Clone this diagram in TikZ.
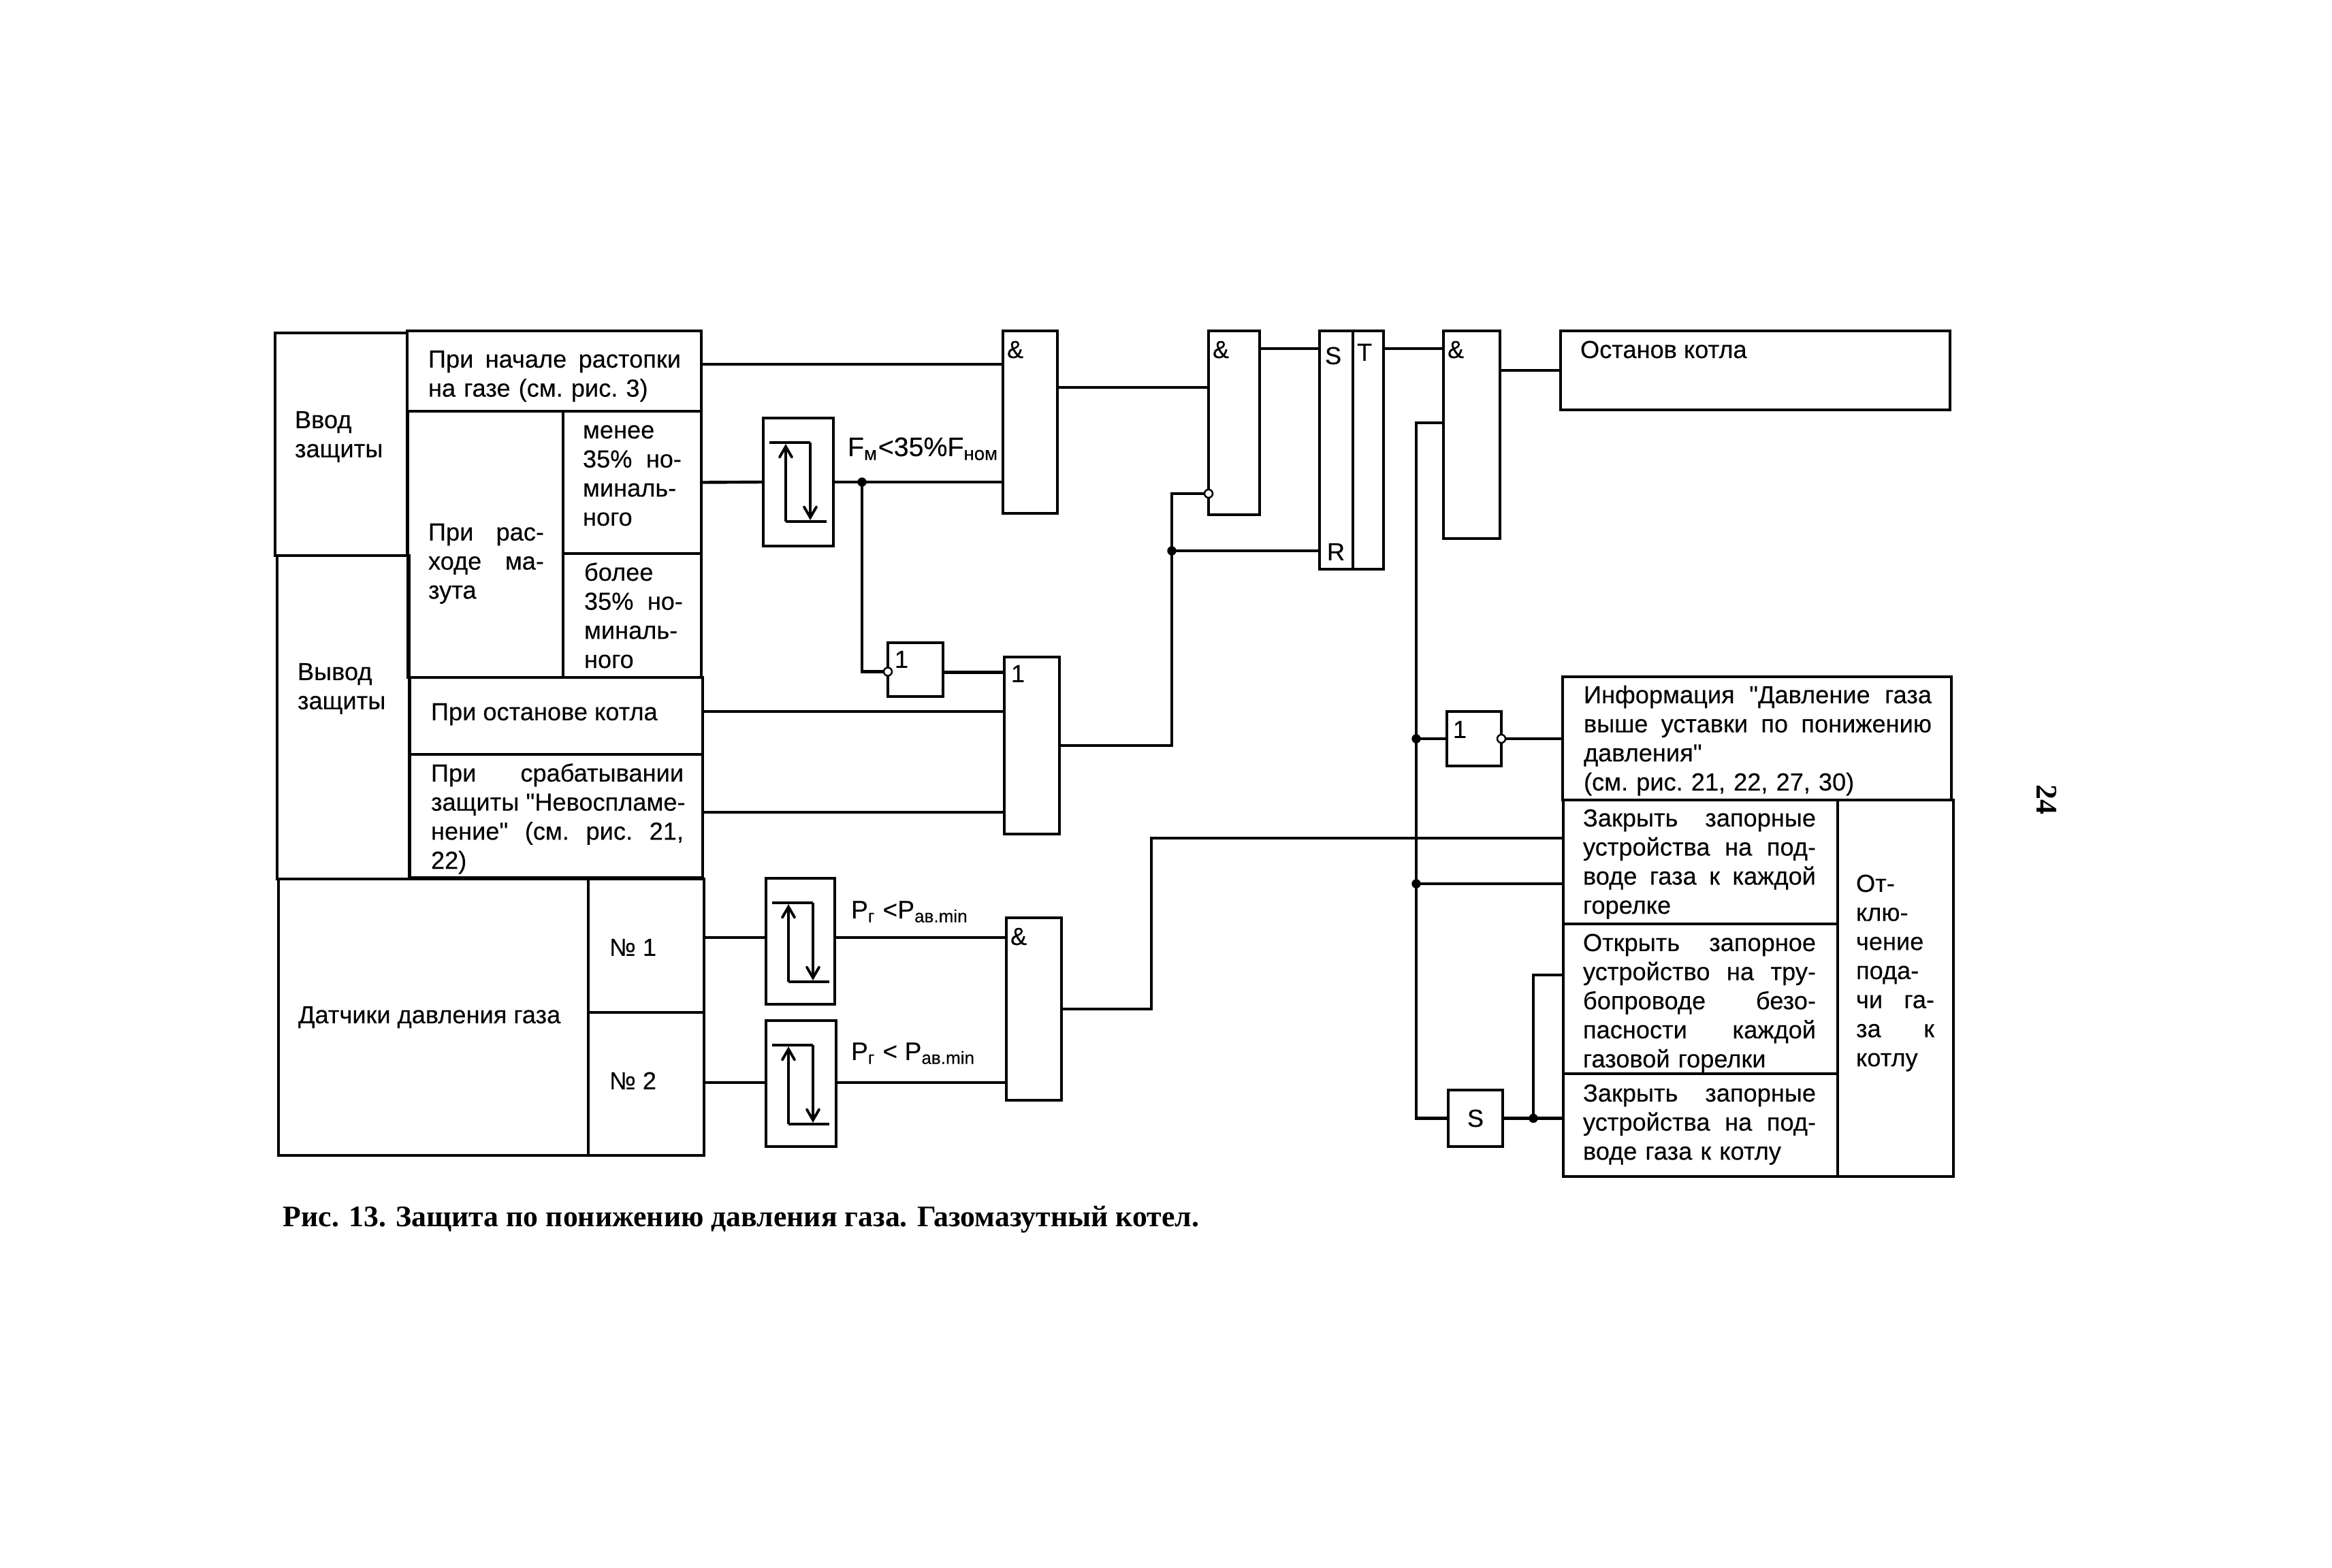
\documentclass[tikz,border=0pt]{standalone}
\usepackage{fontspec}
\usepackage{amsmath}
\setmainfont[FakeBold=0.2]{Liberation Sans}
\newfontfamily\capfont{Liberation Serif}
\newfontfamily\quotefont[FakeBold=0.2]{Liberation Sans}
\usetikzlibrary{arrows,positioning,calc}
\newcommand{\fl}[1]{\makebox[\hsize][s]{\spaceskip=.28em plus 1fil\relax #1}}
\newcommand{\qt}{{\quotefont\symbol{34}}}

\begin{document}
\begin{tikzpicture}[
    box/.style={rectangle, draw, line width=1.25pt, inner sep=0pt, outer sep=0pt},
    cell/.style 2 args={box, minimum width=#1cm, minimum height=#2cm},
    txt/.style={inner sep=0pt, outer sep=0pt, align=left, font=\fontsize{10.3}{12.15}\selectfont, execute at begin node={\frenchspacing\strut}},
    wire/.style={line width=1.25pt},
    dot/.style={circle, fill=black, draw, inner sep=0pt, minimum size=0.12cm},
    bubble/.style={circle, fill=white, draw, line width=0.7pt, inner sep=0pt, minimum size=0.12cm},
    arrow/.style={-angle 60, line width=1.1pt}
]
    \useasboundingbox (0,0) rectangle (34.25,-23.03);

    % left table
    \node[cell={1.94}{3.27}, anchor=north west] (vvod) at (4.04,-4.89) {};
    \node[cell={1.94}{4.75}, below right=0cm and 0.03cm of vvod.south west] (vyvod) {};
    \node[cell={4.32}{1.18}, below right=-0.03cm and 0cm of vvod.north east] (nachalo) {};
    \node[cell={2.28}{3.91}, below right=0cm and 0.01cm of nachalo.south west] (rashod) {};
    \node[cell={2.03}{2.09}, below right=0cm and 0cm of rashod.north east] (menee) {};
    \node[cell={2.03}{1.82}, below right=0cm and 0cm of menee.south west] (bolee) {};
    \node[cell={4.30}{1.13}, below right=0cm and 0.03cm of rashod.south west] (ostanov) {};
    \node[cell={4.30}{1.81}, below right=0cm and 0cm of ostanov.south west] (srab) {};
    \node[cell={4.55}{4.06}, below right=0cm and 0.02cm of vyvod.south west] (datchiki) {};
    \node[cell={1.70}{1.96}, below right=0cm and 0cm of datchiki.north east] (no1) {};
    \node[cell={1.70}{2.10}, below right=0cm and 0cm of no1.south west] (no2) {};

    % relays
    \node[cell={1.03}{1.88}, below right=0.10cm and 0.91cm of menee.north east] (relay) {};
    \node[cell={1.01}{1.85}, below right=-0.01cm and 0.91cm of no1.north east] (rone) {};
    \node[cell={1.03}{1.85}, below right=0.12cm and 0.91cm of no2.north east] (rtwo) {};

    % gates
    \node[cell={0.80}{2.68}, below right=0cm and 4.43cm of nachalo.north east] (andone) {};
    \node[cell={0.81}{0.79}, below right=3.30cm and 0.80cm of relay.north east] (nota) {};
    \node[cell={0.81}{2.60}, below right=2.11cm and 0.02cm of andone.south west] (orgate) {};
    \node[cell={0.75}{2.70}, below right=0cm and 2.22cm of andone.north east] (andtwo) {};
    \node[cell={0.49}{3.50}, below right=0cm and 0.88cm of andtwo.north east] (trigs) {};
    \node[cell={0.45}{3.50}, below right=0cm and 0cm of trigs.north east] (trigt) {};
    \node[cell={0.83}{3.05}, below right=0cm and 0.88cm of trigt.north east] (andthree) {};
    \node[cell={0.81}{2.68}, below right=0.58cm and 2.52cm of rone.north east] (andfour) {};
    \node[cell={0.80}{0.80}, below right=2.54cm and 0.05cm of andthree.south west] (notb) {};
    \node[cell={0.80}{0.83}, below right=4.76cm and 0.02cm of notb.south west, font=\fontsize{10.3}{12.15}\selectfont] (sgate) {S};

    % right table
    \node[cell={5.72}{1.16}, below right=0cm and 0.89cm of andthree.north east] (stop) {};
    \node[cell={5.71}{1.81}, below right=3.92cm and 0.03cm of stop.south west] (info) {};
    \node[cell={4.03}{1.82}, below right=0cm and 0.01cm of info.south west] (zone) {};
    \node[cell={4.03}{2.20}, below right=0cm and 0cm of zone.south west] (zopen) {};
    \node[cell={4.03}{1.51}, below right=0cm and 0cm of zopen.south west] (zgas) {};
    \node[cell={1.70}{5.53}, below right=0cm and 0cm of zone.north east] (otkl) {};

    % texts
    \node[txt, below right=1.15cm and 0.29cm of vvod.north west] (tvvod) {Ввод\\защиты};
    \node[txt, below right=1.58cm and 0.30cm of vyvod.north west] (tvyvod) {Вывод\\защиты};
    \node[txt, text width=3.71cm, below right=0.24cm and 0.31cm of nachalo.north west] (tnachalo) {\fl{При начале растопки}\\на газе (см. рис. 3)};
    \node[txt, text width=1.70cm, below right=1.60cm and 0.30cm of rashod.north west] (trashod) {\fl{При рас-}\\\fl{ходе ма-}\\зута};
    \node[txt, text width=1.45cm, below right=0.10cm and 0.29cm of menee.north west] (tmenee) {менее\\\fl{35\% но-}\\миналь-\\ного};
    \node[txt, text width=1.45cm, below right=0.10cm and 0.31cm of bolee.north west] (tbolee) {более\\\fl{35\% но-}\\миналь-\\ного};
    \node[txt, below right=0.33cm and 0.31cm of ostanov.north west] (tostanov) {При останове котла};
    \node[txt, text width=3.71cm, below right=0.10cm and 0.31cm of srab.north west] (tsrab) {\fl{При срабатывании}\\\fl{защиты \qt Невоспламе-}\\\fl{нение\qt{} (см. рис. 21,}\\22)};
    \node[txt, below right=1.82cm and 0.29cm of datchiki.north west] (tdatchiki) {Датчики давления газа};
    \node[txt, below right=0.83cm and 0.31cm of no1.north west] (tno1) {№ 1};
    \node[txt, below right=0.83cm and 0.31cm of no2.north west] (tno2) {№ 2};
    \node[txt, below right=0.10cm and 0.29cm of stop.north west] (tstop) {Останов котла};
    \node[txt, text width=5.11cm, below right=0.09cm and 0.31cm of info.north west] (tinfo) {\fl{Информация \qt Давление газа}\\\fl{выше уставки по понижению}\\давления\qt\\(см. рис. 21, 22, 27, 30)};
    \node[txt, text width=3.42cm, below right=0.09cm and 0.29cm of zone.north west] (tzone) {\fl{Закрыть запорные}\\\fl{устройства на под-}\\\fl{воде газа к каждой}\\горелке};
    \node[txt, text width=3.42cm, below right=0.10cm and 0.29cm of zopen.north west] (tzopen) {\fl{Открыть запорное}\\\fl{устройство на тру-}\\\fl{бопроводе безо-}\\\fl{пасности каждой}\\газовой горелки};
    \node[txt, text width=3.42cm, below right=0.11cm and 0.29cm of zgas.north west] (tzgas) {\fl{Закрыть запорные}\\\fl{устройства на под-}\\воде газа к котлу};
    \node[txt, text width=1.15cm, below right=1.05cm and 0.27cm of otkl.north west] (totkl) {От-\\клю-\\чение\\пода-\\\fl{чи га-}\\\fl{за к}\\котлу};
    \node[txt, font=\fontsize{11.2}{12.15}\selectfont, below right=0.26cm and 0.21cm of relay.north east] (tfm) {F\textsubscript{м}<35\%F\textsubscript{ном}};
    \node[txt, font=\fontsize{10.6}{12.15}\selectfont, below right=0.29cm and 0.24cm of rone.north east] (tpone) {P\textsubscript{г} <P\textsubscript{ав.min}};
    \node[txt, font=\fontsize{10.6}{12.15}\selectfont, below right=0.28cm and 0.22cm of rtwo.north east] (tptwo) {P\textsubscript{г} < P\textsubscript{ав.min}};
    \foreach \g in {andone,andtwo,andthree,andfour}
        \node[txt, below right=0.10cm and 0.06cm of \g.north west] (l\g) {\&};
    \node[txt, below right=0.07cm and 0.10cm of orgate.north west] (lor) {1};
    \node[txt, below right=0.07cm and 0.10cm of nota.north west] (lnota) {1};
    \node[txt, below right=0.09cm and 0.09cm of notb.north west] (lnotb) {1};
    \node[txt, below right=0.19cm and 0.08cm of trigs.north west] (ls) {S};
    \node[txt, below right=0.14cm and 0.06cm of trigt.north west] (lt) {T};
    \node[txt, below right=3.07cm and 0.11cm of trigs.north west] (lr) {R};

    % relay symbols
    \foreach \r in {relay,rone,rtwo} {
        \draw[wire] ($(\r.north west)+(0.09,-0.36)$) -- ($(\r.north west)+(0.69,-0.36)$);
        \draw[wire] ($(\r.north west)+(0.33,-1.52)$) -- ($(\r.north west)+(0.93,-1.52)$);
        \draw[arrow] ($(\r.north west)+(0.33,-1.52)$) -- ($(\r.north west)+(0.33,-0.38)$);
        \draw[arrow] ($(\r.north west)+(0.69,-0.36)$) -- ($(\r.north west)+(0.69,-1.50)$);
    }

    % inputs
    \coordinate (ain) at ($(andone.north west)+(0,-0.49)$);
    \coordinate (nain) at ($(nota.west)+(0,-0.03)$);
    \coordinate (naout) at ($(nota.east)+(0,-0.04)$);
    \coordinate (oin) at ($(orgate.north west)+(0,-0.80)$);
    \coordinate (oinb) at ($(orgate.north west)+(0,-2.28)$);
    \coordinate (atwoin) at ($(andtwo.north west)+(0,-0.83)$);
    \coordinate (sin) at ($(trigs.north west)+(0,-0.26)$);
    \coordinate (athreein) at ($(andthree.north west)+(0,-1.35)$);
    \coordinate (afourin) at ($(andfour.north west)+(0,-0.29)$);
    \coordinate (afourinb) at ($(andfour.north west)+(0,-2.42)$);
    \coordinate (zin) at ($(zone.north west)+(0,-0.56)$);
    \coordinate (zinb) at ($(zone.north west)+(0,-1.23)$);
    \coordinate (zo) at ($(zopen.north west)+(0,-0.75)$);
    \coordinate (knee) at ($(zin)+(-6.05,0)$);

    % dots and bubbles
    \node[dot] (jf) at ($(relay.east)+(0.42,0)$) {};
    \node[dot] (jr) at ($(andtwo.north west)+(-0.54,-3.23)$) {};
    \node[dot] (jn) at ($(notb.west)+(-0.45,0)$) {};
    \node[dot] (jz) at (jn |- zinb) {};
    \node[dot] (jg) at ($(sgate.east)+(0.45,0)$) {};

    % connectors
    \draw[wire] (ain -| nachalo.east) -- (ain);
    \draw[wire] (menee.east) -- (relay.west);
    \draw[wire] (relay.east) -- (relay.east -| andone.west);
    \draw[wire] (jf.center) |- (nain);
    \draw[wire] (naout) -- (naout -| orgate.west);
    \draw[wire] (oin -| ostanov.east) -- (oin);
    \draw[wire] (oinb -| srab.east) -- (oinb);
    \draw[wire] (atwoin -| andone.east) -- (atwoin);
    \draw[wire] (orgate.east) -| (jr.center) |- ($(andtwo.north west)+(0,-2.39)$);
    \draw[wire] (jr.center) -- (jr -| trigs.west);
    \draw[wire] (sin -| andtwo.east) -- (sin);
    \draw[wire] (sin -| trigt.east) -- (sin -| andthree.west);
    \draw[wire] (stop.west) -- (stop.west -| andthree.east);
    \draw[wire] (athreein) -| (jn.center) -- (jz.center) |- (sgate.west);
    \draw[wire] (jn.center) -- (notb.west);
    \draw[wire] (notb.east) -- (notb.east -| info.west);
    \draw[wire] (jz.center) -- (jz -| zone.west);
    \draw[wire] (afourin -| no1.east) -- (afourin -| rone.west);
    \draw[wire] (afourin -| rone.east) -- (afourin);
    \draw[wire] (afourinb -| no2.east) -- (afourinb -| rtwo.west);
    \draw[wire] (afourinb -| rtwo.east) -- (afourinb);
    \draw[wire] (andfour.east) -| (knee) -- (zin);
    \draw[wire] (sgate.east) -- (sgate.east -| zgas.west);
    \draw[wire, line width=0.9pt] (jg.center) |- (zo);

    \node[bubble] (bnota) at (nain) {};
    \node[bubble] (bandtwo) at ($(andtwo.north west)+(0,-2.39)$) {};
    \node[bubble] (bnotb) at (notb.east) {};

    % caption and page number
    \node[inner sep=0pt, font=\capfont\bfseries\fontsize{12.45}{14}\selectfont, anchor=base west] (caption) at (4.15,-18.01) {Рис. 13. Защита по понижению давления газа. Газомазутный котел.};
    \node[inner sep=0pt, rotate=-90, font=\capfont\bfseries\fontsize{12.5}{14}\selectfont] (pagenum) at (30.06,-11.74) {24};
\end{tikzpicture}
\end{document}
